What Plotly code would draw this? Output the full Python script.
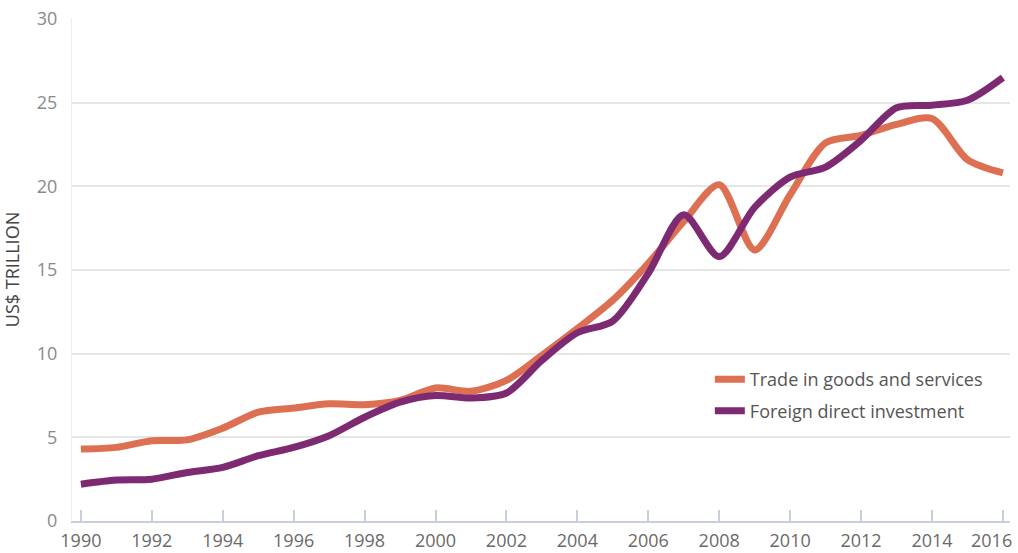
import plotly.graph_objects as go

years = list(range(1990, 2017))
trade = [4.3, 4.4, 4.8, 4.85, 5.55, 6.5, 6.75, 7.0, 6.95, 7.2, 7.95, 7.75, 8.4, 9.9,
         11.5, 13.2, 15.4, 17.9, 20.1, 16.2, 19.5, 22.6, 23.05, 23.7, 24.05, 21.6, 20.8]
fdi = [2.2, 2.45, 2.5, 2.9, 3.2, 3.9, 4.4, 5.1, 6.2, 7.1, 7.5, 7.35, 7.65, 9.6,
       11.25, 11.95, 14.8, 18.3, 15.8, 18.75, 20.55, 21.15, 22.75, 24.7, 24.85, 25.15, 26.5]
x_ticks = list(range(1990, 2017, 2))
x_labels = [str(v) for v in x_ticks]
last_label = x_labels[-1]
x_labels[-1] = ""
y_ticks = [0, 5, 10, 15, 20, 25, 30]

ORANGE = "#DD6F52"
PURPLE = "#7D2A73"

fig = go.Figure()
fig.add_trace(go.Scatter(x=years, y=trade, mode="lines", name="Trade in goods and services",
                         line=dict(color=ORANGE, width=7, shape="spline", smoothing=0.8),
                         legendgroup="a", cliponaxis=False))
fig.add_trace(go.Scatter(x=years, y=fdi, mode="lines", name="Foreign direct investment",
                         line=dict(color=PURPLE, width=7, shape="spline", smoothing=0.8),
                         legendgroup="b", cliponaxis=False))

# last x label placed as an annotation so it stays inside the window
fig.add_annotation(x=x_ticks[-1], y=0, xref="x", yref="y", text=last_label,
                   showarrow=False, xanchor="center", yanchor="top", yshift=-5, xshift=-11,
                   font=dict(size=18, color="#6a6a6a", family="Open Sans, sans-serif"))

fig.update_layout(
    width=1018, height=553,
    margin=dict(l=72, r=8, t=18, b=32, autoexpand=False),
    paper_bgcolor="white", plot_bgcolor="white",
    font=dict(family="Open Sans, sans-serif", color="#666"),
    showlegend=True,
    legend=dict(x=0.68, y=0.318, xanchor="left", yanchor="top",
                font=dict(size=18, color="#555"), bgcolor="rgba(255,255,255,0)",
                tracegroupgap=5, traceorder="grouped", itemwidth=30),
    xaxis=dict(range=[1989.75, 2016.2], tickvals=x_ticks, ticktext=x_labels,
               showgrid=False, zeroline=False, showline=True, linecolor="#C9CEDF", linewidth=2,
               ticks="inside", ticklen=11, tickwidth=1.5, tickcolor="#C9CEDF",
               tickfont=dict(size=18, color="#6a6a6a"), ticklabelstandoff=2,
               automargin=False),
    yaxis=dict(range=[0, 30.06], tickvals=y_ticks, showgrid=True, gridcolor="#E6E6E6", gridwidth=1.5,
               zeroline=False, showline=True, linecolor="#EDEDF3", linewidth=1,
               tickfont=dict(size=18, color="#8a8a8a"), ticks="", ticklabelstandoff=10,
               ticklabeloverflow="allow", automargin=False,
               title=dict(text="US$ TRILLION", font=dict(size=18, color="#444"), standoff=17)),
)

fig.write_html("out.html", config={"displayModeBar": False},
               post_script="document.body.style.margin='0px';")
